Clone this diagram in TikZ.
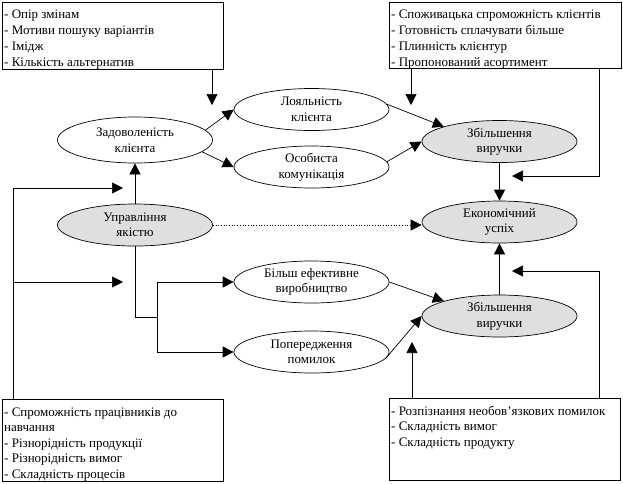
\documentclass[tikz,border=0pt]{standalone}
\usepackage{fontspec}
\setmainfont{Liberation Serif}
\usetikzlibrary{arrows.meta,shapes.geometric}
\begin{document}
\begin{tikzpicture}[x=1pt,y=-1pt,
  every node/.style={font=\fontsize{13}{15.5}\selectfont},
  oval/.style={ellipse,draw,minimum width=155pt,minimum height=42pt,inner sep=0pt,align=center,line width=0.7pt},
  grayoval/.style={oval,fill=gray!25},
  box/.style={draw,line width=0.7pt,anchor=north west,inner sep=0pt},
  boxtext/.style={anchor=north west,inner sep=0pt,align=left},
  arr/.style={-{Triangle[length=11pt,width=11pt]},line width=0.7pt},
  ln/.style={line width=0.7pt}]
\useasboundingbox (0,0) rectangle (623,483);

% boxes
\node[box,minimum width=221pt,minimum height=67pt] (tlb) at (2,2) {};
\node[box,minimum width=232pt,minimum height=66pt] (trb) at (389,2) {};
\node[box,minimum width=221pt,minimum height=82pt] (blb) at (2,399) {};
\node[box,minimum width=231pt,minimum height=82pt] (brb) at (389,398) {};

\node[boxtext,font=\fontsize{13}{16}\selectfont] (tlt) at (4,6.8) {\strut- Опір змінам\\- Мотиви пошуку варіантів\\- Імідж\\- Кількість альтернатив};
\node[boxtext,font=\fontsize{13}{16}\selectfont] (trt) at (391,6.8) {\strut- Споживацька спроможність клієнтів\\- Готовність сплачувати більше\\- Плинність клієнтур\\- Пропонований асортимент};
\node[boxtext,font=\fontsize{13}{15.5}\selectfont] (blt) at (4,405.2) {\strut- Спроможність працівників до\\навчання\\- Різнорідність продукції\\- Різнорідність вимог\\- Складність процесів};
\node[boxtext,font=\fontsize{13}{15.5}\selectfont] (brt) at (391,404.2) {\strut- Розпізнання необов’язкових помилок\\- Складність вимог\\- Складність продукту};

% ellipses
\node[oval,minimum height=46pt] (zad) at (135,140) {Задоволеність\\клієнта};
\node[oval] (loy) at (311.5,109.5) {Лояльність\\клієнта};
\node[oval] (os) at (311.5,167) {Особиста\\комунікація};
\node[grayoval] (upr) at (135,225) {Управління\\якістю};
\node[oval] (bil) at (311.5,282) {Більш ефективне\\виробництво};
\node[oval] (pop) at (311.5,352) {Попередження\\помилок};
\node[grayoval] (zb1) at (499.5,141.5) {Збільшення\\виручки};
\node[grayoval] (ek) at (499.5,222) {Економічний\\успіх};
\node[grayoval] (zb2) at (499.5,316) {Збільшення\\виручки};

% coordinates
\coordinate (a1) at (212,105);
\coordinate (a2) at (411,105);
\coordinate (r1) at (599,176);
\coordinate (r1t) at (512,176);
\coordinate (r2) at (599,271);
\coordinate (r2t) at (512,271);
\coordinate (a3) at (412,342);
\coordinate (l1) at (13,188);
\coordinate (l1t) at (123,188);
\coordinate (l2) at (13,282);
\coordinate (l2t) at (123,282);
\coordinate (j1) at (157,317);
\coordinate (j2) at (157,282);
\coordinate (j3) at (157,352);

% connectors
\draw[arr] (tlb.south -| a1) -- (a1);
\draw[arr] (trb.south -| a2) -- (a2);
\draw[arr] (trb.south -| r1) -- (r1) -- (r1t);
\draw[arr] (brb.north -| r2) -- (r2) -- (r2t);
\draw[arr] (brb.north -| a3) -- (a3);
\draw[arr] (blb.north -| l1) -- (l1) -- (l1t);
\draw[arr] (l2) -- (l2t);

\draw[arr] (zad.8) -- (loy.west);
\draw[arr] (zad.-10) -- (os.west);
\draw[arr] (loy.4) -- (zb1.165);
\draw[arr] (os.4) -- (zb1.west);
\draw[arr] (upr.north) -- (zad.south);
\draw[arr] (zb1.south) -- (ek.north);
\draw[arr] (zb2.north) -- (ek.south);
\draw[arr,dotted] (upr.east) -- (upr.east -| ek.west);

\draw[ln] (upr.south) -- (upr.south |- j1) -- (j1);
\draw[ln] (j2) -- (j3);
\draw[arr] (j2) -- (bil.west);
\draw[arr] (j3) -- (pop.west);
\draw[arr] (bil.east) -- (zb2.165);
\draw[arr] (pop.-5) -- (zb2.west);
\end{tikzpicture}
\end{document}
